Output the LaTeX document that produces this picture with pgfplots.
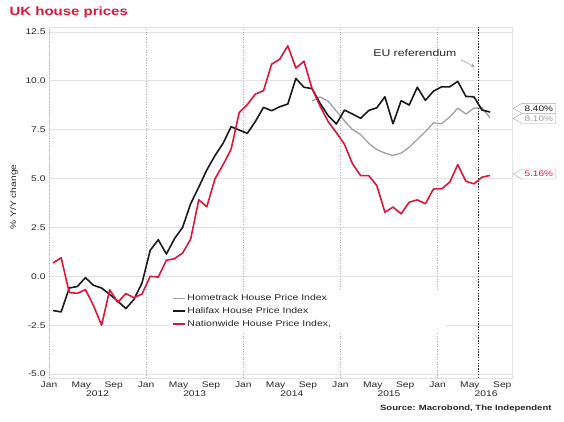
\documentclass[border=0pt]{standalone}
\usepackage{fontspec}
\setmainfont{Liberation Sans}[FakeStretch=1.25]
\usepackage{pgfplots}
\usepackage{pgfplotstable}
\pgfplotsset{compat=1.18}
\usetikzlibrary{shapes.symbols,arrows.meta}
\definecolor{ukred}{RGB}{220,22,58}
\definecolor{hgray}{RGB}{160,160,160}
\definecolor{hblack}{RGB}{25,25,25}
\definecolor{gridc}{RGB}{226,226,226}
\definecolor{txt}{RGB}{40,40,40}
\newcommand\tf{\fontsize{8.2}{9.8}\selectfont}
\newcommand\lf{\fontsize{8.4}{10}\selectfont}

\pgfplotstableread{
x v
0.5 0.68
1.5 0.95
2.5 -0.83
3.5 -0.87
4.5 -0.68
5.5 -1.5
6.5 -2.5
7.5 -0.69
8.5 -1.33
9.5 -0.88
10.5 -1.1
11.5 -0.9
12.5 0.0
13.5 -0.04
14.5 0.82
15.5 0.9
16.5 1.19
17.5 1.9
18.5 3.91
19.5 3.56
20.5 4.98
21.5 5.7
22.5 6.5
23.5 8.38
24.5 8.78
25.5 9.32
26.5 9.49
27.5 10.85
28.5 11.1
29.5 11.79
30.5 10.65
31.5 11.0
32.5 9.6
33.5 8.7
34.5 7.9
35.5 7.35
36.5 6.75
37.5 5.75
38.5 5.15
39.5 5.15
40.5 4.64
41.5 3.28
42.5 3.54
43.5 3.2
44.5 3.79
45.5 3.91
46.5 3.71
47.5 4.47
48.5 4.47
49.5 4.81
50.5 5.71
51.5 4.86
52.5 4.73
53.5 5.07
54.5 5.16
}\nationwide

\pgfplotstableread{
x v
0.5 -1.75
1.5 -1.82
2.5 -0.6
3.5 -0.52
4.5 -0.07
5.5 -0.46
6.5 -0.6
7.5 -0.92
8.5 -1.27
9.5 -1.65
10.5 -1.18
11.5 -0.33
12.5 1.33
13.5 1.87
14.5 1.14
15.5 1.92
16.5 2.5
17.5 3.71
18.5 4.56
19.5 5.44
20.5 6.17
21.5 6.8
22.5 7.65
23.5 7.48
24.5 7.31
25.5 7.92
26.5 8.64
27.5 8.47
28.5 8.67
29.5 8.81
30.5 10.12
31.5 9.67
32.5 9.6
33.5 8.84
34.5 8.21
35.5 7.79
36.5 8.5
37.5 8.3
38.5 8.08
39.5 8.48
40.5 8.62
41.5 9.18
42.5 7.8
43.5 8.98
44.5 8.76
45.5 9.67
46.5 9.0
47.5 9.47
48.5 9.69
49.5 9.69
50.5 9.97
51.5 9.2
52.5 9.18
53.5 8.5
54.5 8.4
}\halifax

\pgfplotstableread{
x v
32.5 8.97
33.5 9.17
34.5 8.95
35.5 8.45
36.5 7.95
37.5 7.5
38.5 7.25
39.5 6.8
40.5 6.48
41.5 6.3
42.5 6.18
43.5 6.3
44.5 6.6
45.5 7.0
46.5 7.4
47.5 7.85
48.5 7.8
49.5 8.15
50.5 8.6
51.5 8.3
52.5 8.6
53.5 8.62
54.5 8.1
}\hometrack

\begin{document}
\begin{tikzpicture}[x=1pt,y=1pt,
  lbl/.style={signal, signal to=west, signal pointer angle=58, draw=black!35, fill=white,
    inner xsep=2.5pt, inner ysep=0pt, minimum height=10pt, font=\fontsize{8}{9.6}\selectfont, anchor=west, xshift=0.7pt}]
\useasboundingbox (0,0) rectangle (564,421);
\begin{axis}[
  at={(49pt,43pt)}, anchor=south west,
  scale only axis, width=463pt, height=351pt,
  xmin=0, xmax=57.2, ymin=-5.2, ymax=12.75,
  xtick={0,4,...,56},
  xticklabels={Jan,May,Sep,Jan,May,Sep,Jan,May,Sep,Jan,May,Sep,Jan,May,Sep},
  ytick={-5,-2.5,...,12.5},
  yticklabel style={/pgf/number format/.cd, fixed, fixed zerofill, precision=1, assume math mode=true},
  tick label style={font=\tf, text=txt},
  major tick length=0pt,
  axis line style={gridc},
  ymajorgrids, major grid style={gridc, line width=0.6pt},
  extra x ticks={0,12,24,36,48}, extra x tick labels={},
  extra x tick style={xmajorgrids=true, major grid style={black!30, dotted, line width=0.6pt}},
  clip=false,
  legend style={at={(rel axis cs:0.265,0.243)}, anchor=north west, draw=none, fill=none,
    font=\lf, row sep=1pt, inner sep=0pt, text=txt},
  legend cell align=left,
  legend image code/.code={\draw[#1] (0pt,0pt) -- (12pt,0pt);},
]
\fill[white] (axis cs:14.9,-0.82) rectangle (axis cs:49.1,-2.86);
\addplot[hgray, line width=1.3pt, line join=round] table[x=x,y=v] {\hometrack};
\addlegendentry{Hometrack House Price Index}
\addplot[hblack, line width=1.6pt, line join=round] table[x=x,y=v] {\halifax};
\addlegendentry{Halifax House Price Index}
\addplot[ukred, line width=1.6pt, line join=round] table[x=x,y=v] {\nationwide};
\addlegendentry{Nationwide House Price Index,}
\draw[black!85, line width=0.8pt, dash pattern=on 1.4pt off 1.4pt] (axis cs:53,-5.2) -- (axis cs:53,12.75);
\node[font=\fontsize{9.8}{11}\selectfont, text=txt] at (axis cs:45.2,11.43) {EU referendum};
\draw[black!40, line width=0.5pt, -{Stealth[open,length=4pt,width=3.5pt]}] (axis cs:50.9,11.07) -- (axis cs:52.6,10.71);
\node[lbl, text=hblack] at (axis cs:57.2,8.59) {8.40\%};
\node[lbl, text=hgray] at (axis cs:57.2,8.07) {8.10\%};
\node[lbl, text=ukred] at (axis cs:57.2,5.23) {5.16\%};
\node[font=\tf, text=txt] at (axis cs:6,-5.2) [yshift=-16pt] {2012};
\node[font=\tf, text=txt] at (axis cs:18,-5.2) [yshift=-16pt] {2013};
\node[font=\tf, text=txt] at (axis cs:30,-5.2) [yshift=-16pt] {2014};
\node[font=\tf, text=txt] at (axis cs:42,-5.2) [yshift=-16pt] {2015};
\node[font=\tf, text=txt] at (axis cs:54,-5.2) [yshift=-16pt] {2016};
\end{axis}
\node[anchor=west, text=ukred, font=\fontsize{12}{14}\selectfont\bfseries] at (6,409) {UK house prices};
\node[rotate=90, font=\tf, text=txt] at (14,224) {\% Y/Y change};
\node[anchor=east, font=\fontsize{7.6}{9}\selectfont\bfseries, text=txt] at (555,12) {Source: Macrobond, The Independent};
\end{tikzpicture}
\end{document}
